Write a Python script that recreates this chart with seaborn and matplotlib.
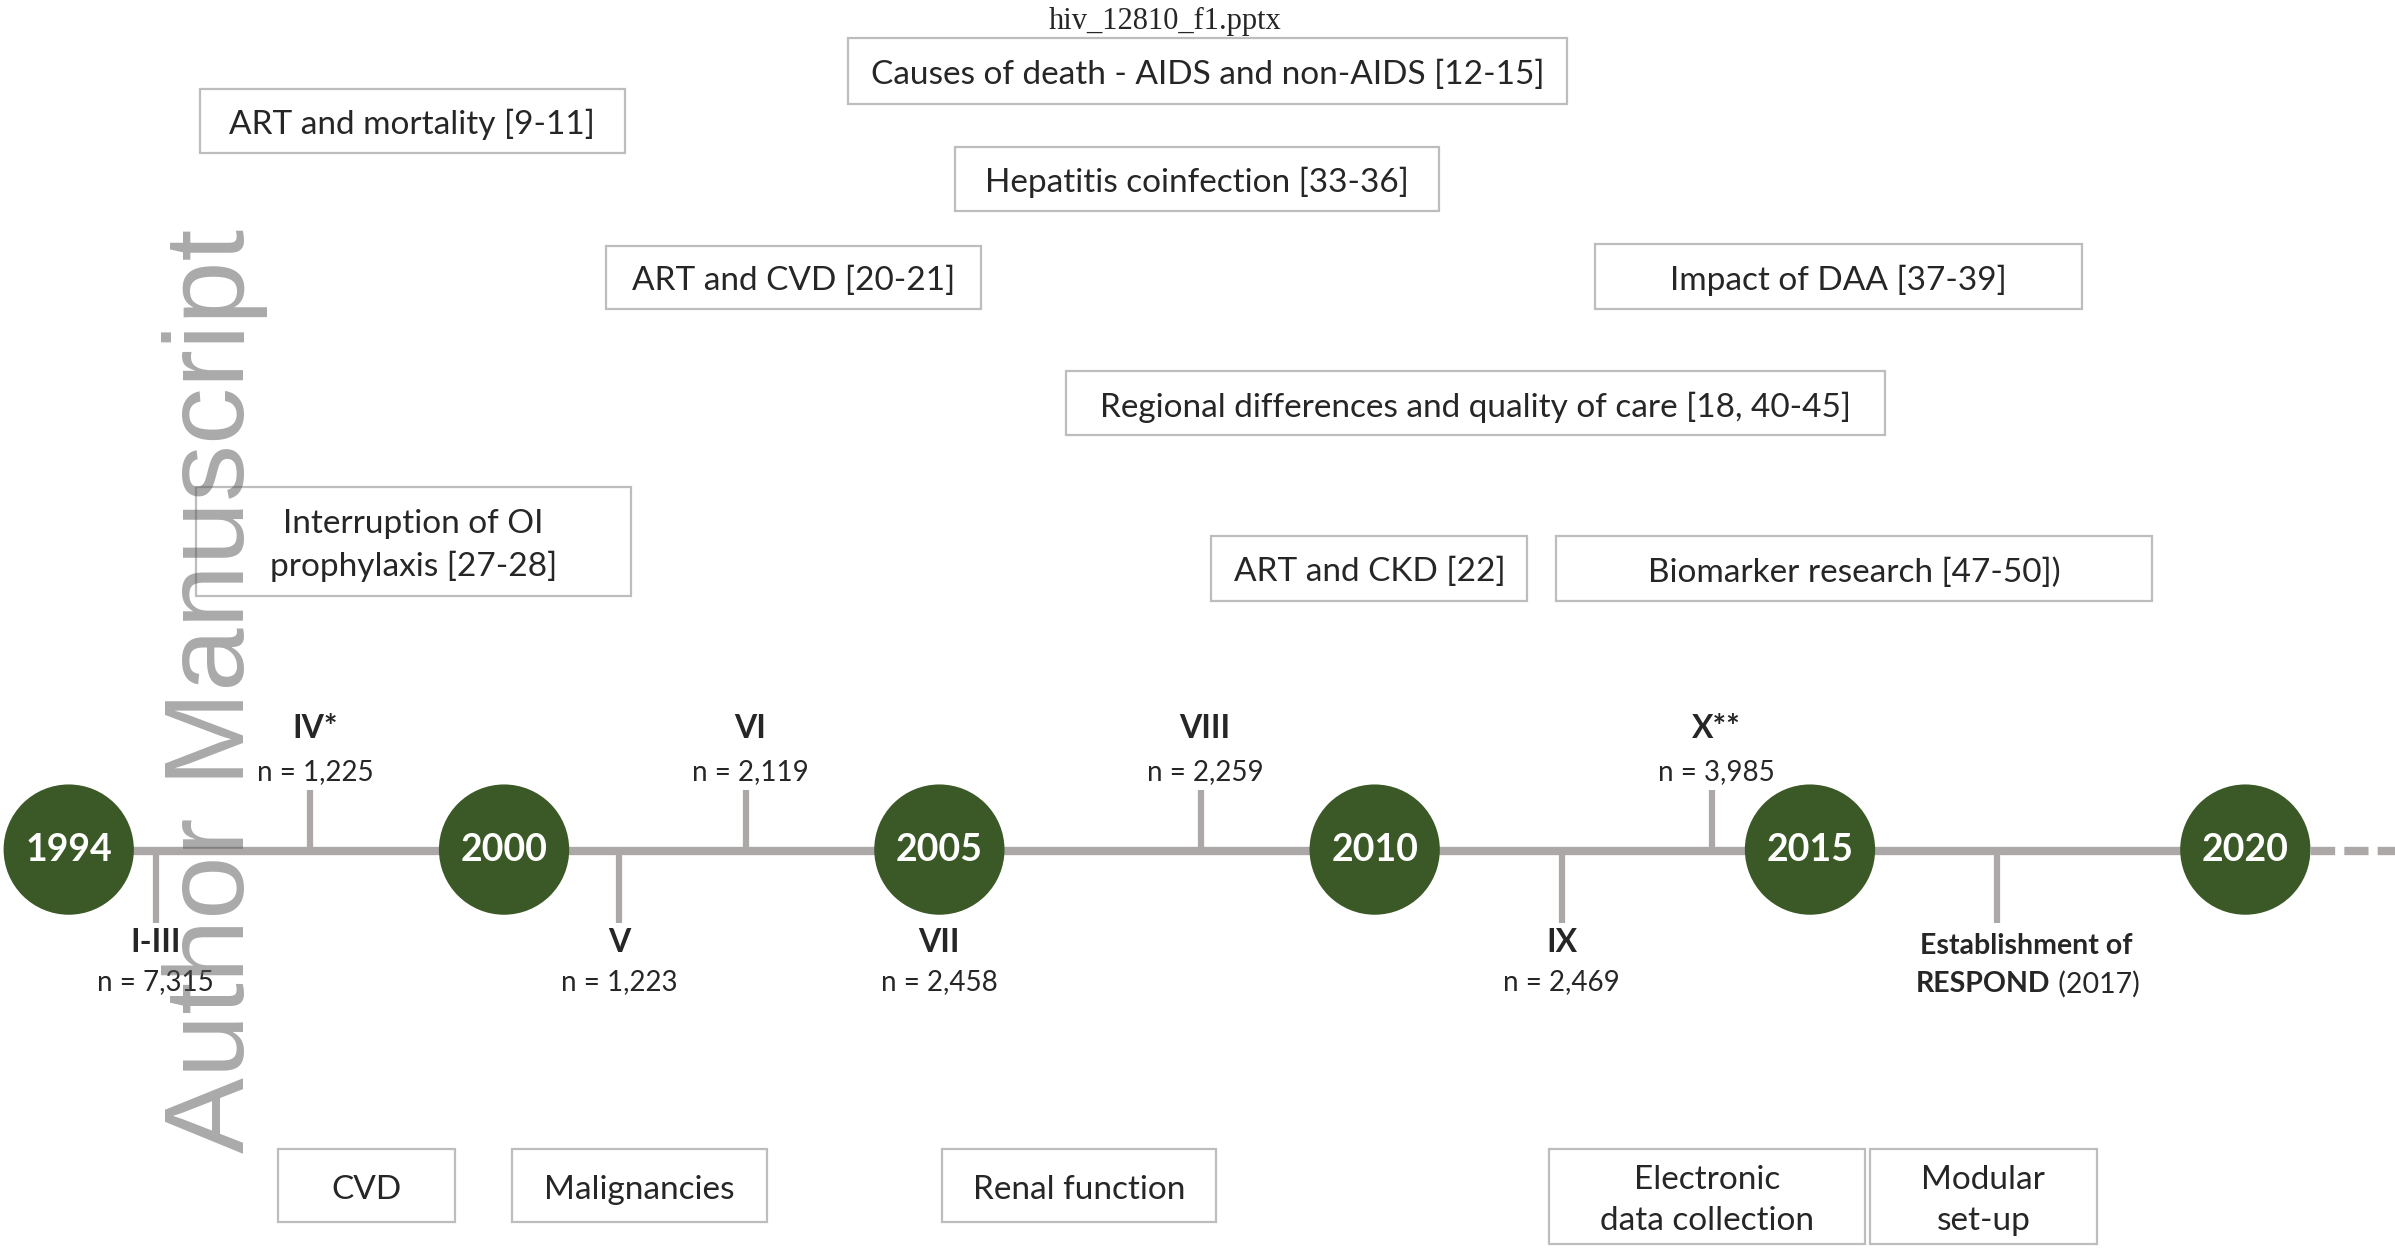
import numpy as np
import pandas as pd
import seaborn as sns
import matplotlib.pyplot as plt
from matplotlib.patches import Rectangle

# Timeline data
milestone_years = [1994, 2000, 2005, 2010, 2015, 2020]

cohort_names = ['I-III', 'IV*', 'V', 'VI', 'VII', 'VIII', 'IX', 'X**']
cohort_n = [7315, 1225, 1223, 2119, 2458, 2259, 2469, 3985]
# position along the timeline, in milestone steps (0 = 1994, 1 = 2000, ...)
cohort_pos = [0.20, 0.555, 1.265, 1.555, 2.0, 2.60, 3.43, 3.775]
cohort_side = ['below', 'above', 'below', 'above', 'below', 'above', 'below', 'above']
cohort_tick = [True, True, True, True, False, True, True, True]

respond_pos = 4.43

topic_labels = [
    'Causes of death - AIDS and non-AIDS [12-15]',
    'ART and mortality [9-11]',
    'Hepatitis coinfection [33-36]',
    'ART and CVD [20-21]',
    'Impact of DAA [37-39]',
    'Regional differences and quality of care [18, 40-45]',
    'Interruption of OI\nprophylaxis [27-28]',
    'ART and CKD [22]',
    'Biomarker research [47-50])',
]
module_labels = ['CVD', 'Malignancies', 'Renal function',
                 'Electronic\ndata collection', 'Modular\nset-up']

# layout (canvas units: 1568 x 820)
topic_boxes = [(555, 25, 1026, 68), (131, 58, 409, 100), (625, 96, 942, 138),
               (397, 161, 642, 202), (1044, 160, 1363, 202), (698, 243, 1234, 285),
               (128, 319, 413, 390), (793, 351, 1000, 393), (1019, 351, 1409, 393)]
module_boxes = [(182, 752, 298, 800), (335, 752, 502, 800), (617, 752, 796, 800),
                (1014, 752, 1221, 814), (1224, 752, 1373, 814)]

X0, STEP, LINE_Y = 45, 285, 557
GREEN = '#3B5926'
GREY = '#ABA8A7'
BOX_EDGE = '#BDBDBD'

sns.set_theme(style='white')
plt.rcParams['font.family'] = ['Lato', 'DejaVu Sans']

fig = plt.figure(figsize=(23.95, 12.53), dpi=100)
ax = fig.add_axes([0, 0, 1, 1])
ax.set_xlim(0, 1568)
ax.set_ylim(820, 0)
ax.axis('off')


def tx(p):
    return X0 + np.asarray(p) * STEP


# main line and dashed continuation
xs = tx(np.arange(len(milestone_years)))
ax.plot([xs[0], xs[-1]], [LINE_Y, LINE_Y], color=GREY, lw=6, zorder=1,
        solid_capstyle='butt')
ax.plot([xs[-1] + 43, 1568], [LINE_Y, LINE_Y], color=GREY, lw=6, zorder=1,
        linestyle=(0, (2.9, 1.1)))

# milestone circles
ms = pd.DataFrame({'x': xs, 'y': [LINE_Y - 1] * len(xs), 'year': milestone_years})
sns.scatterplot(data=ms, x='x', y='y', s=8800, color=GREEN, edgecolor='none',
                legend=False, ax=ax, zorder=3)
for _, r in ms.iterrows():
    ax.text(r['x'], r['y'], str(r['year']), color='white', fontsize=27,
            fontweight='bold', ha='center', va='center', zorder=4)

# cohorts
for name, n, p, side, tick in zip(cohort_names, cohort_n, cohort_pos,
                                  cohort_side, cohort_tick):
    x = tx(p)
    if side == 'above':
        if tick:
            ax.vlines(x, LINE_Y, 517, color=GREY, lw=4.5, zorder=2)
        ax.text(x + 3, 477, name, fontsize=23, fontweight='bold',
                ha='center', va='center')
        ax.text(x + 3, 505, f'n = {n:,}', fontsize=20, ha='center', va='center')
    else:
        if tick:
            ax.vlines(x, LINE_Y, 604, color=GREY, lw=4.5, zorder=2)
        ax.text(x, 617, name, fontsize=23, fontweight='bold',
                ha='center', va='center')
        ax.text(x, 643, f'n = {n:,}', fontsize=20, ha='center', va='center')

# RESPOND
xr = tx(respond_pos)
ax.vlines(xr, LINE_Y, 604, color=GREY, lw=4.5, zorder=2)
ax.text(xr + 19, 619, 'Establishment of', fontsize=20.5, fontweight='bold',
        ha='center', va='center')
t1 = ax.text(xr - 53, 644, 'RESPOND', fontsize=20.5, fontweight='bold',
             ha='left', va='center')
ax.annotate(' (2017)', xy=(1, 0.5), xycoords=t1, fontsize=20.5,
            ha='left', va='center')


# boxes
def draw_box(box, label):
    x0, y0, x1, y1 = box
    ax.add_patch(Rectangle((x0, y0), x1 - x0, y1 - y0, facecolor='white',
                           edgecolor=BOX_EDGE, lw=1.6, zorder=2))
    ax.text((x0 + x1) / 2, (y0 + y1) / 2 + 2.5, label, fontsize=24,
            ha='center', va='center', linespacing=1.45, zorder=3)


for b, lab in zip(topic_boxes, topic_labels):
    draw_box(b, lab)
for b, lab in zip(module_boxes, module_labels):
    draw_box(b, lab)

# header and watermark
ax.text(763, 14, 'hiv_12810_f1.pptx', fontsize=22, family='Liberation Serif',
        ha='center', va='center')
ax.text(141, 452, 'Author Manuscript', fontsize=82, family='Liberation Sans',
        rotation=90, ha='center', va='center', color='#555555', alpha=0.5,
        zorder=10)

fig.savefig('out.png', dpi=100)
